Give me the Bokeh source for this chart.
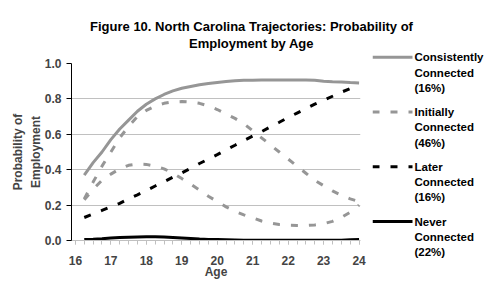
from bokeh.plotting import figure
from bokeh.layouts import column, row
from bokeh.models import Range1d, Label, FixedTicker, NumeralTickFormatter, Plot
from bokeh.embed import file_html
from bokeh.resources import INLINE

ages = [16.25, 16.5, 16.75, 17.0, 17.25, 17.5, 17.75, 18.0, 18.25, 18.5, 18.75, 19.0,
        19.25, 19.5, 19.75, 20.0, 20.25, 20.5, 20.75, 21.0, 21.25, 21.5, 21.75, 22.0,
        22.25, 22.5, 22.75, 23.0, 23.25, 23.5, 23.75, 24.0]

consistently = [0.37, 0.44, 0.50, 0.57, 0.63, 0.68, 0.73, 0.77, 0.80, 0.825, 0.845, 0.86,
                0.87, 0.88, 0.887, 0.893, 0.898, 0.902, 0.905, 0.906, 0.907, 0.907, 0.907, 0.907,
                0.907, 0.907, 0.905, 0.90, 0.897, 0.895, 0.892, 0.89]

initially_a = [0.235, 0.33, 0.42, 0.50, 0.58, 0.645, 0.70, 0.735, 0.76, 0.775, 0.783, 0.785,
               0.782, 0.775, 0.76, 0.74, 0.715, 0.69, 0.66, 0.62, 0.58, 0.54, 0.50, 0.46,
               0.42, 0.38, 0.34, 0.31, 0.28, 0.255, 0.235, 0.22]

initially_b = [0.23, 0.29, 0.34, 0.375, 0.405, 0.425, 0.432, 0.43, 0.42, 0.405, 0.38, 0.35,
               0.318, 0.285, 0.25, 0.22, 0.19, 0.165, 0.145, 0.128, 0.11, 0.098, 0.09, 0.086,
               0.085, 0.085, 0.088, 0.095, 0.108, 0.13, 0.16, 0.20]

later = [0.13, 0.15, 0.17, 0.19, 0.21, 0.235, 0.258, 0.282, 0.308, 0.332, 0.358, 0.382,
         0.408, 0.435, 0.46, 0.485, 0.512, 0.538, 0.565, 0.59, 0.615, 0.642, 0.668, 0.695,
         0.72, 0.745, 0.77, 0.792, 0.815, 0.838, 0.858, 0.878]

never = [0.005, 0.007, 0.010, 0.014, 0.017, 0.019, 0.020, 0.021, 0.021, 0.020, 0.017, 0.014,
         0.011, 0.008, 0.006, 0.005, 0.004, 0.003, 0.002, 0.002, 0.002, 0.002, 0.002, 0.002,
         0.002, 0.002, 0.002, 0.002, 0.002, 0.002, 0.004, 0.006]

title_lines = ["Figure 10. North Carolina Trajectories: Probability of", "Employment by Age"]
legend_names = [["Consistently", "Connected", "(16%)"],
                ["Initially", "Connected", "(46%)"],
                ["Later", "Connected", "(16%)"],
                ["Never", "Connected", "(22%)"]]
x_ticks = [16, 17, 18, 19, 20, 21, 22, 23, 24]
y_ticks = [0.0, 0.2, 0.4, 0.6, 0.8, 1.0]

FONT = "Liberation Sans"
GRAY = "#969696"
LIGHT = "#c0c0c0"
DASH = "7 11"
series_styles = [(GRAY, "solid"), (GRAY, DASH), ("black", DASH), ("black", "solid")]

W, H = 497, 290
TITLE_H = 52
LEG_X = 372
LEG_W = W - LEG_X
MAIN_W = LEG_X
MAIN_H = H - TITLE_H

HAS_ALIGN = "frame_align" in Plot.properties()


def no_align(fig):
    if HAS_ALIGN:
        fig.frame_align = False


# ---------------- title strip (page-pixel coordinates) ----------------
t = figure(width=W, height=TITLE_H, output_backend="svg", toolbar_location=None,
           x_range=Range1d(0, W), y_range=Range1d(TITLE_H, 0),
           x_axis_type=None, y_axis_type=None, min_border=0)
t.outline_line_color = None
t.grid.visible = False
no_align(t)
for txt, cy in zip(title_lines, [25.5, 43]):
    t.add_layout(Label(x=251, y=cy, text=txt,
                       text_align="center", text_baseline="middle", text_font=FONT,
                       text_font_style="bold", text_font_size="13px", text_color="black"))

# ---------------- main plot ----------------
p = figure(width=MAIN_W, height=MAIN_H, output_backend="svg", toolbar_location=None,
           x_range=Range1d(15.89, 24.04), y_range=Range1d(0, 1.0),
           min_border_left=71, min_border_right=MAIN_W - 360,
           min_border_top=63 - TITLE_H, min_border_bottom=H - 240)
p.outline_line_color = None
no_align(p)

series = [consistently, initially_a, initially_b, later, never]
styles = [series_styles[0], series_styles[1], series_styles[1], series_styles[2], series_styles[3]]
for ys, (col, dash) in zip(series, styles):
    p.line(ages, ys, line_color=col, line_width=3, line_dash=dash)

p.xaxis.ticker = FixedTicker(ticks=x_ticks, minor_ticks=[16.0] + list(ages))
p.xaxis.axis_line_color = LIGHT
p.xaxis.major_tick_line_color = LIGHT
p.xaxis.minor_tick_line_color = LIGHT
p.xaxis.major_tick_out = 4
p.xaxis.major_tick_in = 0
p.xaxis.minor_tick_out = 4
p.xaxis.minor_tick_in = 0
p.xaxis.major_label_standoff = 11
p.xaxis.major_label_text_font = FONT
p.xaxis.major_label_text_font_style = "bold"
p.xaxis.major_label_text_font_size = "12px"
p.xaxis.axis_label = "Age"
p.xaxis.axis_label_text_font = FONT
p.xaxis.axis_label_text_font_style = "bold"
p.xaxis.axis_label_text_font_size = "12px"
p.xaxis.axis_label_standoff = -3

p.yaxis.ticker = FixedTicker(ticks=y_ticks, minor_ticks=[])
p.yaxis.formatter = NumeralTickFormatter(format="0.0")
p.yaxis.axis_line_color = "black"
p.yaxis.major_tick_line_color = "black"
p.yaxis.major_tick_out = 5
p.yaxis.major_tick_in = 0
p.yaxis.minor_tick_line_color = None
p.yaxis.major_label_standoff = 5
p.yaxis.major_label_text_font = FONT
p.yaxis.major_label_text_font_style = "bold"
p.yaxis.major_label_text_font_size = "12px"
p.yaxis.axis_label = "Probability of\nEmployment"
p.yaxis.axis_label_text_font = FONT
p.yaxis.axis_label_text_font_style = "bold"
p.yaxis.axis_label_text_font_size = "12px"
p.yaxis.axis_label_text_line_height = 1.25
p.yaxis.axis_label_standoff = -1

p.xgrid.grid_line_color = None
p.ygrid.grid_line_color = LIGHT
p.ygrid.ticker = FixedTicker(ticks=y_ticks[1:])

# ---------------- legend strip (page-pixel coordinates) ----------------
lg = figure(width=LEG_W, height=MAIN_H, output_backend="svg", toolbar_location=None,
            x_range=Range1d(LEG_X, W), y_range=Range1d(H, TITLE_H),
            x_axis_type=None, y_axis_type=None, min_border=0)
lg.outline_line_color = None
lg.grid.visible = False
no_align(lg)

FIRST = 56.7
GROUP_STEP = 54.8
LINE_STEP = 15.3
SWATCH_W = 40
for i, (names, (col, dash)) in enumerate(zip(legend_names, series_styles)):
    top = FIRST + i * GROUP_STEP
    lg.line([LEG_X, LEG_X + SWATCH_W], [top, top], line_color=col, line_width=3, line_dash=dash)
    for j, name in enumerate(names):
        lg.add_layout(Label(x=LEG_X + SWATCH_W + 2, y=top + j * LINE_STEP, text=name,
                            text_align="left", text_baseline="middle", text_font=FONT,
                            text_font_style="bold", text_font_size="11.5px",
                            text_color="black"))

layout = column(t, row(p, lg, spacing=0), spacing=0)
open("out.html", "w").write(file_html(layout, INLINE))
